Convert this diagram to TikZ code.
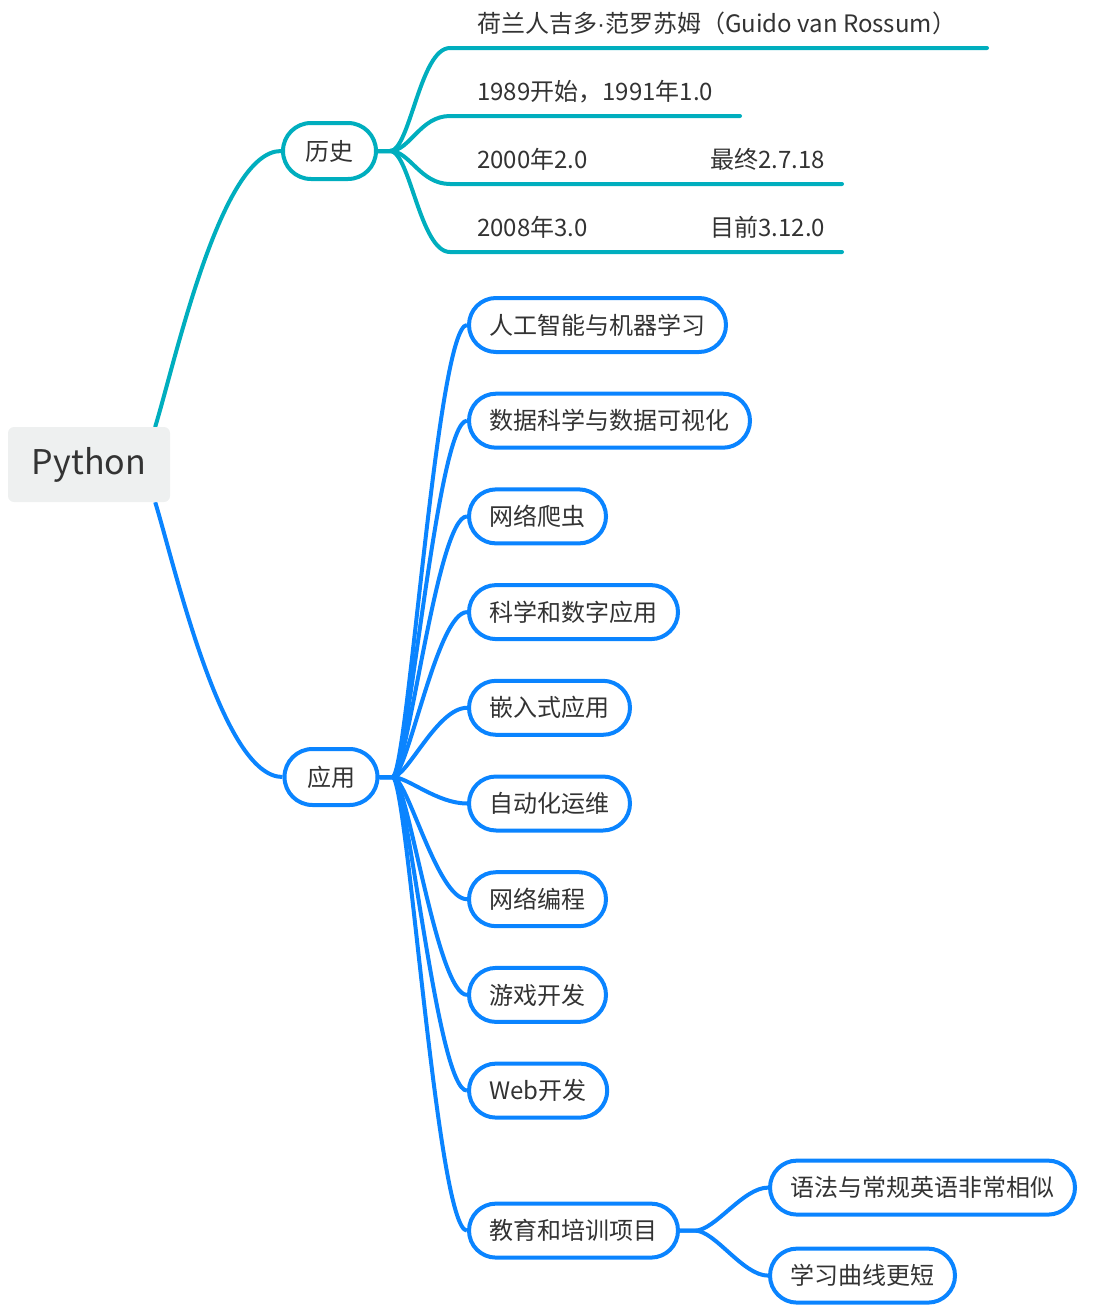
\documentclass[tikz,border=0pt]{standalone}
\usepackage{fontspec}
\setmainfont{Noto Sans CJK SC}
\newfontfamily\dotfont{Liberation Sans}
\usepackage{tikz}
\usetikzlibrary{positioning, backgrounds}
\definecolor{histcolor}{RGB}{0, 174, 190}
\definecolor{appcolor}{RGB}{10, 132, 255}
\definecolor{rootfill}{RGB}{238, 240, 240}
\definecolor{textgray}{RGB}{51, 51, 51}
\tikzstyle{root} = [rectangle, rounded corners=6pt, minimum width=162pt, minimum height=75pt, fill=rootfill, text=textgray, font=\fontsize{34}{40}\selectfont]
\tikzstyle{topic} = [rectangle, rounded corners=28pt, minimum height=56pt, inner xsep=22.5pt, line width=4pt, fill=white, text=textgray, font=\fontsize{24}{28}\selectfont]
\tikzstyle{histtopic} = [topic, draw=histcolor]
\tikzstyle{apptopic} = [topic, draw=appcolor]
\tikzstyle{leaf} = [topic, draw=appcolor, rounded corners=27pt, minimum height=54pt, inner xsep=20.5pt]
\tikzstyle{histleaf} = [rectangle, anchor=south west, inner xsep=27pt, inner ysep=13pt, text=textgray, font=\fontsize{24}{28}\selectfont]
\tikzstyle{histline} = [line width=4pt, color=histcolor, line cap=round]
\tikzstyle{appline} = [line width=4pt, color=appcolor]

\begin{document}
\begin{tikzpicture}[x=1pt, y=1pt]
    \useasboundingbox (0,0) rectangle (1101,-1309);
    % Nodes
    \node (py) [root] at (89,-464.5) {Python};
    \node (hist) [histtopic] at (329.5,-151) {历史};
    \node (app) [apptopic] at (331,-777) {应用};

    % History leaves
    \node (h1) [histleaf] at (450,-48) {荷兰人吉多{\dotfont ·}范罗苏姆（Guido van Rossum）};
    \node (h2) [histleaf] at (450,-116) {1989开始，1991年1.0};
    \node (h3) [histleaf] at (450,-184) {\makebox[348pt][l]{2000年2.0\hfill 最终2.7.18}};
    \node (h4) [histleaf] at (450,-252) {\makebox[348pt][l]{2008年3.0\hfill 目前3.12.0}};

    % Application leaves
    \node (a1) [leaf, anchor=west] at (467,-325) {人工智能与机器学习};
    \node (a2) [leaf, below=37.7pt of a1.south west, anchor=north west] {数据科学与数据可视化};
    \node (a3) [leaf, below=37.7pt of a2.south west, anchor=north west] {网络爬虫};
    \node (a4) [leaf, below=37.7pt of a3.south west, anchor=north west] {科学和数字应用};
    \node (a5) [leaf, below=37.7pt of a4.south west, anchor=north west] {嵌入式应用};
    \node (a6) [leaf, below=37.7pt of a5.south west, anchor=north west] {自动化运维};
    \node (a7) [leaf, below=37.7pt of a6.south west, anchor=north west] {网络编程};
    \node (a8) [leaf, below=37.7pt of a7.south west, anchor=north west] {游戏开发};
    \node (a9) [leaf, below=37.7pt of a8.south west, anchor=north west] {Web开发};
    \node (edu) [leaf, below=82pt of a9.south west, anchor=north west] {教育和培训项目};
    \node (e1) [leaf, above right=43pt and 88pt of edu.east, anchor=west] {语法与常规英语非常相似};
    \node (e2) [leaf, below right=45pt and 88pt of edu.east, anchor=west] {学习曲线更短};

    % Connectors
    \begin{scope}[on background layer]
    \draw [histline] ([xshift=-15pt]py.north east) to[out=73, in=180, out distance=70pt, in distance=60pt] (hist.west);
    \draw [appline] ([xshift=-15pt]py.south east) to[out=-73, in=180, out distance=70pt, in distance=60pt] (app.west);

    \draw [histline] (hist.east) -- ++(12,0) to[out=0, in=180, out distance=20pt, in distance=30pt] (h1.south west) -- ++(537,0);
    \draw [histline] (hist.east) -- ++(12,0) to[out=0, in=180, out distance=20pt, in distance=30pt] (h2.south west) -- ++(290,0);
    \draw [histline] (hist.east) -- ++(12,0) to[out=0, in=180, out distance=20pt, in distance=30pt] (h3.south west) -- ++(392,0);
    \draw [histline] (hist.east) -- ++(12,0) to[out=0, in=180, out distance=20pt, in distance=30pt] (h4.south west) -- ++(392,0);

    \draw [appline] (app.east) -- ++(13,0) to[out=0, in=180, out distance=15pt, in distance=30pt] (a1.west);
    \draw [appline] (app.east) -- ++(13,0) to[out=0, in=180, out distance=15pt, in distance=30pt] (a2.west);
    \draw [appline] (app.east) -- ++(13,0) to[out=0, in=180, out distance=15pt, in distance=30pt] (a3.west);
    \draw [appline] (app.east) -- ++(13,0) to[out=0, in=180, out distance=15pt, in distance=30pt] (a4.west);
    \draw [appline] (app.east) -- ++(13,0) to[out=0, in=180, out distance=15pt, in distance=30pt] (a5.west);
    \draw [appline] (app.east) -- ++(13,0) to[out=0, in=180, out distance=15pt, in distance=30pt] (a6.west);
    \draw [appline] (app.east) -- ++(13,0) to[out=0, in=180, out distance=15pt, in distance=30pt] (a7.west);
    \draw [appline] (app.east) -- ++(13,0) to[out=0, in=180, out distance=15pt, in distance=30pt] (a8.west);
    \draw [appline] (app.east) -- ++(13,0) to[out=0, in=180, out distance=15pt, in distance=30pt] (a9.west);
    \draw [appline] (app.east) -- ++(13,0) to[out=0, in=180, out distance=15pt, in distance=30pt] (edu.west);

    \draw [appline] (edu.east) -- ++(15,0) to[out=0, in=180, out distance=20pt, in distance=25pt] (e1.west);
    \draw [appline] (edu.east) -- ++(15,0) to[out=0, in=180, out distance=20pt, in distance=25pt] (e2.west);
    \end{scope}
\end{tikzpicture}
\end{document}
